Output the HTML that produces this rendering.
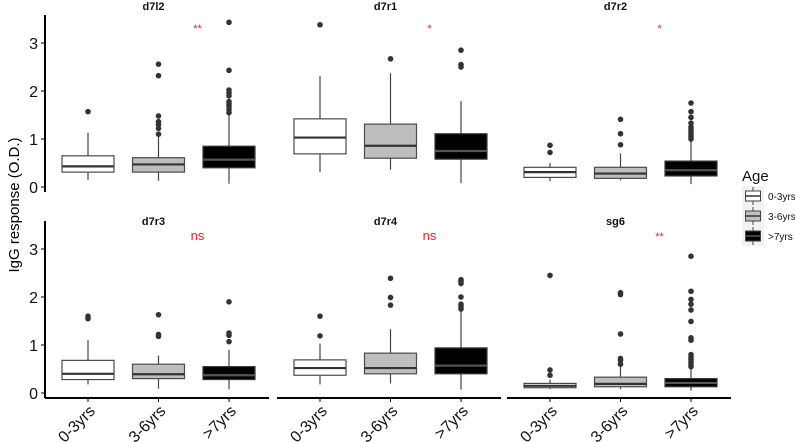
<!DOCTYPE html>
<html><head><meta charset="utf-8"><style>
body{margin:0;background:#fff;}
svg{display:block;font-family:"Liberation Sans",Arial,sans-serif;}
</style></head><body>
<svg id="chart" width="795" height="442" viewBox="0 0 795 442"></svg>
<script>
const panels = ["d7l2","d7r1","d7r2","d7r3","d7r4","sg6"];
const categories = ["0-3yrs","3-6yrs",">7yrs"];
const sigLabels = ["**","*","*","ns","ns","**"];
const yTicks = [0,1,2,3];
const fills = ["#ffffff","#bebebe","#000000"];
// [low whisker, q1, median, q3, high whisker] per panel per category
const stats = [
 [[0.15,0.31,0.43,0.65,1.13],[0.13,0.31,0.47,0.61,1.05],[0.07,0.40,0.57,0.85,1.50]],
 [[0.31,0.69,1.03,1.42,2.31],[0.36,0.60,0.86,1.31,2.37],[0.08,0.58,0.75,1.11,1.79]],
 [[0.12,0.20,0.31,0.41,0.50],[0.14,0.18,0.28,0.41,0.70],[0.06,0.23,0.35,0.54,0.98]],
 [[0.18,0.28,0.40,0.68,1.10],[0.09,0.30,0.39,0.60,0.78],[0.08,0.28,0.37,0.55,0.90]],
 [[0.18,0.37,0.52,0.69,1.03],[0.20,0.40,0.52,0.83,1.33],[0.07,0.40,0.57,0.94,1.73]],
 [[0.08,0.11,0.15,0.20,0.28],[0.08,0.13,0.19,0.33,0.55],[0.05,0.13,0.21,0.30,0.51]]
];
const outliers = [
 [[1.57],[1.10,1.22,1.30,1.36,1.48,2.32,2.56],[1.55,1.62,1.68,1.73,1.78,1.90,1.96,2.02,2.43,3.43]],
 [[3.38],[2.67],[2.50,2.55,2.85]],
 [[0.72,0.87],[0.88,1.11,1.41],[1.00,1.05,1.10,1.15,1.20,1.25,1.33,1.45,1.57,1.75]],
 [[1.55,1.60],[1.18,1.22,1.63],[1.07,1.20,1.25,1.90]],
 [[1.19,1.60],[1.83,1.99,2.39],[1.75,1.80,1.85,2.00,2.28,2.33,2.36]],
 [[0.37,0.48,2.45],[0.60,0.68,0.72,1.23,2.05,2.09],[0.55,0.60,0.65,0.70,0.75,0.80,1.10,1.15,1.49,1.73,1.85,1.95,2.12,2.85]]
];

const NS="http://www.w3.org/2000/svg";
const svg=document.getElementById('chart');
function mk(tag,attrs,parent){const e=document.createElementNS(NS,tag);for(const k in attrs)e.setAttribute(k,attrs[k]);(parent||svg).appendChild(e);return e;}
const panelX0=[45,277,507], panelW=225;
const zeroY=[187,393], pxPerUnit=48;
function yScale(row,v){return zeroY[row]-v*pxPerUnit;}
function xScale(col,i){return panelX0[col]+43+i*70.5;}

const yt=mk('text',{x:0,y:0,transform:'translate(19,205) rotate(-90)','text-anchor':'middle','font-size':15,fill:'#000'});
yt.textContent='IgG response (O.D.)';



for(let row=0;row<2;row++){
  const ax=mk('line',{x1:45,x2:45,y1:zeroY[row]-172,y2:zeroY[row]+5,stroke:'#000','stroke-width':2});
  
  
  yTicks.forEach(t=>{
    const y=yScale(row,t);
    mk('line',{x1:41,x2:45,y1:y,y2:y,stroke:'#000','stroke-width':1});
    const tl=mk('text',{x:38,y:y+6,'text-anchor':'end','font-size':16,fill:'#111'});
    tl.textContent=t;
    
    
  });
}

panels.forEach((name,p)=>{
  const row=Math.floor(p/3), col=p%3;
  const g=mk('g',{});
  
  
  const title=mk('text',{x:panelX0[col]+panelW/2-4,y:row?225:10,'text-anchor':'middle','font-size':11,'font-weight':'bold',fill:'#111'},g);
  title.textContent=name;
  
  
  const sig=mk('text',{x:xScale(col,1)+39,y:row?240:32,'text-anchor':'middle','font-size':row&&p!==5?13:11,fill:'#e8262b'},g);
  sig.textContent=sigLabels[p];
  
  
  categories.forEach((c,i)=>{
    const s=stats[p][i], cx=xScale(col,i), bw=52;
    const edge=i===2?'#3a3a3a':'#4a4a4a';
    const bg=mk('g',{},g);
    
    
    mk('line',{x1:cx,x2:cx,y1:yScale(row,s[0]),y2:yScale(row,s[1]),stroke:'#444','stroke-width':1.2},bg);
    mk('line',{x1:cx,x2:cx,y1:yScale(row,s[3]),y2:yScale(row,s[4]),stroke:'#444','stroke-width':1.2},bg);
    mk('rect',{x:cx-bw/2,y:yScale(row,s[3]),width:bw,height:yScale(row,s[1])-yScale(row,s[3]),fill:fills[i],stroke:edge,'stroke-width':1.2},bg);
    mk('line',{x1:cx-bw/2,x2:cx+bw/2,y1:yScale(row,s[2]),y2:yScale(row,s[2]),stroke:i===2?'#555':'#333','stroke-width':2.2},bg);
    outliers[p][i].forEach(v=>{
      const o=mk('circle',{cx:cx,cy:yScale(row,v),r:2.8,fill:'#333'},bg);
      
      
    });
  });
  if(row===1){
    const xl=mk('line',{x1:panelX0[col],x2:panelX0[col]+panelW-1,y1:398,y2:398,stroke:'#000','stroke-width':2},g);
    
    
    categories.forEach((c,i)=>{
      const cx=xScale(col,i);
      mk('line',{x1:cx,x2:cx,y1:398,y2:402,stroke:'#000'},g);
      const t=mk('text',{x:0,y:0,transform:'translate('+(cx+8)+',412) rotate(-45)','text-anchor':'end','font-size':16,fill:'#111'},g);
      t.textContent=c;
      
      
    });
  }
});

const lg=mk('g',{});


const lt=mk('text',{x:742,y:181,'font-size':15,fill:'#111'},lg);
lt.textContent='Age';


mk('rect',{x:742,y:186,width:22,height:60,fill:'#f2f2f2'},lg);
categories.forEach((c,i)=>{
  const y=196+i*20;
  const e=mk('g',{},lg);
  
  
  mk('line',{x1:753,x2:753,y1:y-9,y2:y+9,stroke:'#444'},e);
  mk('rect',{x:745.5,y:y-5,width:15,height:10,fill:fills[i],stroke:'#444'},e);
  mk('line',{x1:745.5,x2:760.5,y1:y,y2:y,stroke:i===2?'#555':'#333','stroke-width':1.5},e);
  const t=mk('text',{x:768,y:y+4,'font-size':10,fill:'#111'},e);
  t.textContent=c;
});
</script>
</body></html>
